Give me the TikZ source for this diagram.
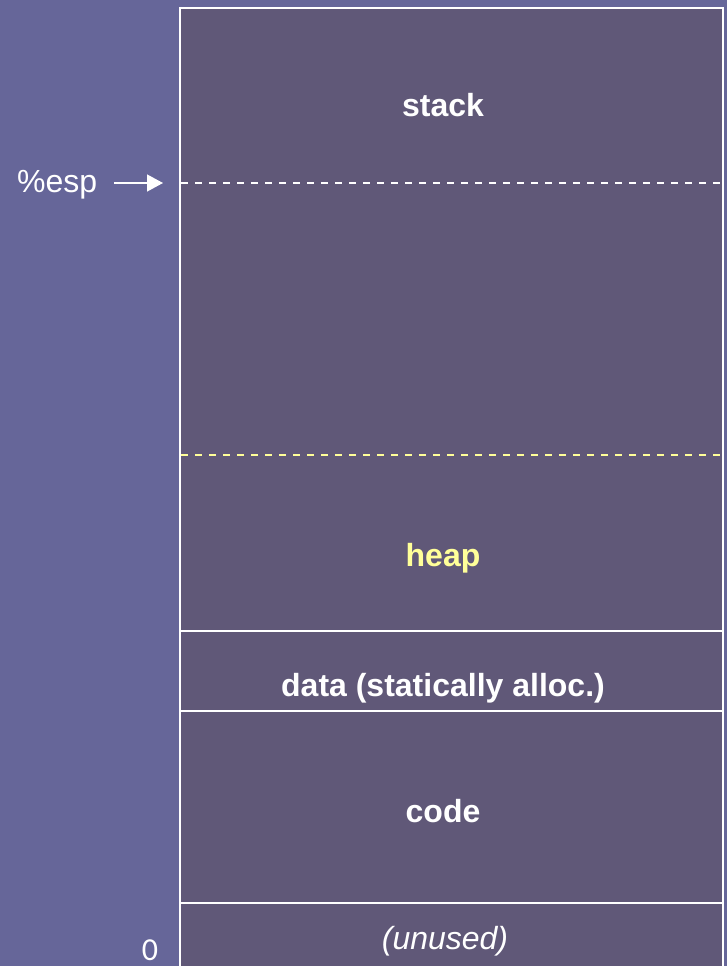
\documentclass[tikz,border=0pt]{standalone}
\usepackage{fontspec}
\setmainfont{Liberation Sans}
\newfontfamily\digitfont{Carlito}
\usetikzlibrary{arrows.meta}

\definecolor{slide}{HTML}{666699}
\definecolor{memfill}{HTML}{605878}
\definecolor{paleyellow}{HTML}{FFFF99}

\tikzset{
  region/.style={font=\fontsize{32}{38}\selectfont\bfseries, text=white, anchor=base, inner sep=0pt},
  sidelabel/.style={font=\fontsize{32}{38}\selectfont, text=white, inner sep=0pt},
  divider/.style={draw=white, line width=1.6pt},
  marker/.style={line width=1.8pt, dash pattern=on 7pt off 7pt},
}

\begin{document}
\begin{tikzpicture}[x=1pt, y=-1pt]
  % slide background and page size
  \fill[slide] (0,0) rectangle (727,966);
  \useasboundingbox (0,0) rectangle (727,966);

  % address space column
  \begin{scope}
    \clip (0,0) rectangle (727,966);
    \fill[memfill] (180,8) rectangle (723,980);
    \draw[white, line width=1.6pt] (180,980) -- (180,8) -- (723,8) -- (723,980);
  \end{scope}

  % boundaries between segments
  \draw[marker, white] (181,183) -- (722,183);
  \draw[marker, paleyellow] (181,455) -- (722,455);
  \draw[divider] (180,631) -- (723,631);
  \draw[divider] (180,711) -- (723,711);
  \draw[divider] (180,903) -- (723,903);

  % segment labels
  \node[region] (stack) at (443,116) {stack};
  \node[region, text=paleyellow] (heap) at (443,566) {heap};
  \node[region] (data) at (443,696) {data (statically alloc.)};
  \node[region] (code) at (443,822) {code};
  \node[sidelabel, anchor=base, font=\fontsize{32}{38}\selectfont\itshape] (unused) at (445,949) {(unused)};

  % stack pointer and address zero
  \node[sidelabel, anchor=base west] (esp) at (17,192) {\%esp};
  \coordinate (esptip) at (163,183);
  \draw[white, line width=1.4pt, -{Triangle[length=16pt, width=17pt]}]
    (esp.east |- esptip) ++(17,0) -- (esptip);
  \node[sidelabel, anchor=base, font=\fontsize{32}{38}\selectfont\digitfont] (zero) at (150,960) {0};
\end{tikzpicture}
\end{document}
